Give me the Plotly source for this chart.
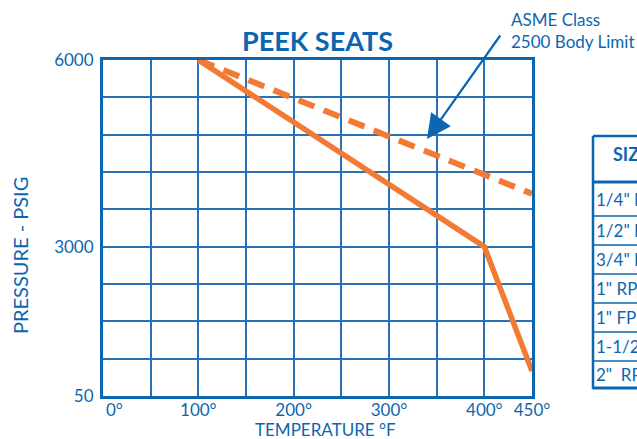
import plotly.graph_objects as go

# ---- data ----
temp_solid = [100, 400, 450]
press_solid = [6000, 3000, 1000]
temp_dash = [100, 450]
press_dash = [6000, 3850]

x_tick_vals = [0, 100, 200, 300, 400, 450]
x_tick_text = ["", "100°", "200°", "300°", "400°", "450°"]
x_zero_label = "0°"
x_minor_vals = [50, 150, 250, 350]
y_tick_vals = [600, 3000, 6000]
y_tick_text = ["50", "3000", "6000"]
y_minor_vals = [1200, 1800, 2400, 3600, 4200, 4800, 5400]

table_header = "SIZE"
table_rows = ['1/4" FP', '1/2" FP', '3/4" FP', '1" RP', '1" FP', '1-1/2" RP', '2"  RP']

# ---- style ----
BLUE = "#0b66b1"
GRID = "#2a72b8"
ORANGE = "#f37a35"
FONT = "Lato"
W, H = 637, 439
L, R, T, B = 103, 105, 60, 43
PW, PH = W - L - R, H - T - B


def px(xp):
    return (xp - L) / PW


def py(yp):
    return (H - B - yp) / PH


fig = go.Figure()
fig.add_trace(go.Scatter(x=temp_solid, y=press_solid, mode="lines",
                         line=dict(color=ORANGE, width=5.5), hoverinfo="skip"))
fig.add_trace(go.Scatter(x=temp_dash, y=press_dash, mode="lines",
                         line=dict(color=ORANGE, width=6, dash="17px,10px"), hoverinfo="skip"))

fig.update_layout(
    width=W, height=H,
    margin=dict(l=L, r=R, t=T, b=B, pad=0),
    paper_bgcolor="white", plot_bgcolor="white",
    showlegend=False,
    font=dict(family=FONT, color=BLUE, size=17),
    xaxis=dict(range=[0, 450], tickmode="array", tickvals=x_tick_vals, ticktext=x_tick_text,
               showgrid=True, gridcolor=GRID, gridwidth=1.5,
               minor=dict(tickvals=x_minor_vals, showgrid=True, gridcolor=GRID, gridwidth=1.5),
               showline=True, linecolor=BLUE, linewidth=3, mirror=True,
               ticks="", ticklabelstandoff=-3,
               tickfont=dict(size=17, color=BLUE), zeroline=False, fixedrange=True),
    yaxis=dict(range=[600, 6000], tickmode="array", tickvals=y_tick_vals, ticktext=y_tick_text,
               showgrid=True, gridcolor=GRID, gridwidth=1.5,
               minor=dict(tickvals=y_minor_vals, showgrid=True, gridcolor=GRID, gridwidth=1.5),
               showline=True, linecolor=BLUE, linewidth=3, mirror=True,
               ticks="", ticklabelstandoff=3,
               tickfont=dict(size=17, color=BLUE), zeroline=False, fixedrange=True),
)

ann = []
# title
ann.append(dict(text="<b>PEEK SEATS</b>", xref="paper", yref="paper", x=0.5, y=py(40),
                xanchor="center", yanchor="middle", showarrow=False,
                font=dict(size=27, color=BLUE, family=FONT, weight=900)))
# 0° tick label (drawn slightly right of the axis, as in the original)
ann.append(dict(text=x_zero_label, xref="paper", yref="paper", x=px(114), y=py(409),
                xanchor="center", yanchor="middle", showarrow=False,
                font=dict(size=17, color=BLUE, family=FONT)))
# axis titles
ann.append(dict(text="TEMPERATURE °F", xref="paper", yref="paper", x=px(325), y=py(429),
                xanchor="center", yanchor="middle", showarrow=False,
                font=dict(size=17, color=BLUE, family=FONT)))
ann.append(dict(text="PRESSURE - PSIG", xref="paper", yref="paper", x=px(20), y=py(256),
                xanchor="center", yanchor="middle", showarrow=False, textangle=-90,
                font=dict(size=20, color=BLUE, family=FONT)))
# callout
ann.append(dict(text="ASME Class<br>2500 Body Limit", xref="paper", yref="paper",
                x=px(509), y=py(30), xanchor="left", yanchor="middle", align="left",
                showarrow=False, font=dict(size=17, color=BLUE, family=FONT)))
ann.append(dict(text=" ", xref="paper", yref="paper", x=px(427), y=py(139),
                ax=75, ay=-106, showarrow=True, arrowhead=2, arrowsize=2.2,
                arrowwidth=2.2, arrowcolor=BLUE, standoff=0, font=dict(size=2)))

# table (partially cut off at right edge)
row_lines = [182, 216, 245, 274, 303, 332, 361, 388]
shapes = []
shapes.append(dict(type="line", xref="paper", yref="paper", x0=px(593), x1=px(593),
                   y0=py(136), y1=py(389), line=dict(color=BLUE, width=2.5)))
shapes.append(dict(type="line", xref="paper", yref="paper", x0=px(593), x1=px(660),
                   y0=py(136), y1=py(136), line=dict(color=BLUE, width=2.5)))
for i, yl in enumerate(row_lines):
    wdt = 3 if i in (0, len(row_lines) - 1) else 1.5
    shapes.append(dict(type="line", xref="paper", yref="paper", x0=px(593), x1=px(660),
                       y0=py(yl), y1=py(yl), line=dict(color=BLUE, width=wdt)))
ann.append(dict(text="<b>" + table_header + "</b>", xref="paper", yref="paper",
                x=px(611), y=py(154), xanchor="left", yanchor="middle", showarrow=False,
                font=dict(size=18, color=BLUE, family=FONT)))
for i, label in enumerate(table_rows):
    yc = (row_lines[i] + row_lines[i + 1]) / 2
    ann.append(dict(text=label, xref="paper", yref="paper", x=px(594), y=py(yc),
                    xanchor="left", yanchor="middle", showarrow=False,
                    font=dict(size=17, color=BLUE, family=FONT)))

fig.update_layout(annotations=ann, shapes=shapes)
fig.write_html("out.html", config={"displayModeBar": False},
               post_script="document.body.style.margin='0';document.body.style.overflow='hidden';")
